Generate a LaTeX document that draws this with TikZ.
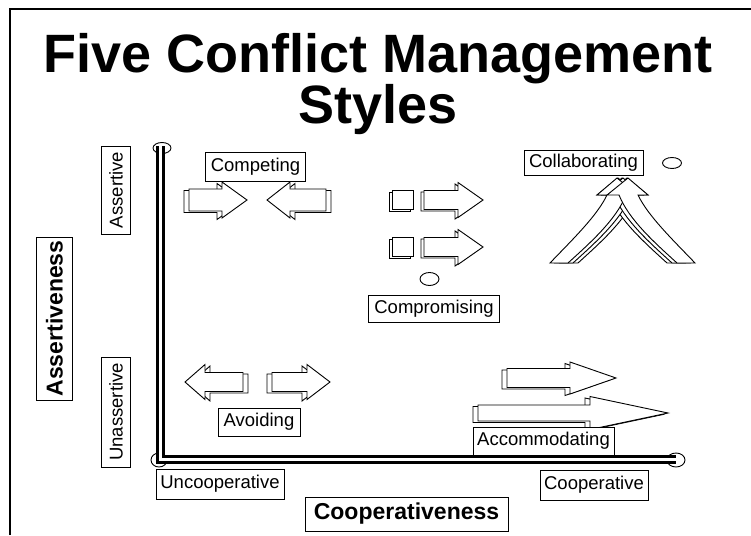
\documentclass[tikz,border=0pt]{standalone}
\usepackage{fontspec}
\setmainfont{Liberation Sans}
\newcommand\blkarrow[7]{%
  \draw[arrowface,xshift=#7pt,yshift=-1.5pt] (#1,#4-#5) -- (#2,#4-#5) -- (#2,#4-#6) -- (#3,#4) -- (#2,#4+#6) -- (#2,#4+#5) -- (#1,#4+#5) -- cycle;
  \draw[arrowface] (#1,#4-#5) -- (#2,#4-#5) -- (#2,#4-#6) -- (#3,#4) -- (#2,#4+#6) -- (#2,#4+#5) -- (#1,#4+#5) -- cycle;
}
\newcommand\leftarm[1]{%
  \draw[arrowface,xshift=#1pt] (550,263) .. controls (572,240) and (597,216) .. (607,195) -- (597,195) -- (617,178) -- (638,195) -- (626,195) .. controls (616,220) and (590,243) .. (568,263) -- cycle;
}
\newcommand\rightarm[1]{%
  \draw[arrowface,xshift=#1pt] (695,263) .. controls (673,240) and (648,216) .. (638,195) -- (648,195) -- (628,178) -- (607,195) -- (619,195) .. controls (629,220) and (655,243) .. (677,263) -- cycle;
}
\begin{document}
\begin{tikzpicture}[x=1pt,y=-1pt,
  arrowface/.style={draw=black,fill=white,line width=0.9pt,line join=miter},
  lbl/.style={draw=black,line width=0.9pt,fill=white,inner sep=0pt,
    font=\fontsize{18.5}{21}\selectfont},
  bigl/.style={draw=black,line width=0.9pt,fill=white,inner sep=0pt,
    font=\bfseries\fontsize{23}{25}\selectfont},
  ttl/.style={font=\bfseries\fontsize{54}{54}\selectfont,anchor=base,inner sep=0pt},
  axisout/.style={line width=9pt,black},
  axisin/.style={line width=3pt,white},
  endcap/.style={draw=black,fill=white,line width=0.9pt}]
\useasboundingbox (0,0) rectangle (751,535);
% frame
\draw[line width=1.5pt] (10,535) -- (10,9) -- (751,9);
% title
\node[ttl] (title1) at (378,72) {Five Conflict Management};
\node[ttl] (title2) at (378,123) {Styles};
% Competing
\blkarrow{189}{222}{247}{200}{11}{18}{-5}
\blkarrow{326}{290}{267}{200}{11}{18}{5}
\node[lbl,minimum width=100pt,minimum height=29pt] (competing) at (255.5,166.5) {Competing};
% Compromising
\foreach \cy in {200,247}{
  \draw[arrowface,xshift=-3pt,yshift=-1.5pt] (392,\cy-9.5) rectangle (413,\cy+9.5);
  \draw[arrowface] (392,\cy-9.5) rectangle (413,\cy+9.5);
  \blkarrow{424}{458}{483}{\cy}{9.5}{17.5}{-3}
}
\draw[endcap] (429.5,279) ellipse [x radius=9.5pt,y radius=6.5pt];
\node[lbl,minimum width=131pt,minimum height=27pt] (compromising) at (434,308.5) {Compromising};
% Collaborating
\leftarm{10}
\rightarm{-10}
\leftarm{5}
\rightarm{-5}
\leftarm{0}
\rightarm{0}
\node[lbl,minimum width=119pt,minimum height=25pt] (collaborating) at (583.5,162.5) {Collaborating};
\draw[endcap] (672,163) ellipse [x radius=9.5pt,y radius=5.5pt];
% Avoiding
\blkarrow{243}{205}{185}{382}{9.5}{17.5}{5}
\blkarrow{272}{307}{330}{382}{9.5}{17.5}{-5}
\node[lbl,minimum width=82pt,minimum height=28pt] (avoiding) at (259,422) {Avoiding};
% Accommodating
\blkarrow{507}{570}{616}{378}{9.5}{16}{-5}
\blkarrow{478}{590}{668}{413}{8}{16.5}{-5}
\node[lbl,minimum width=141pt,minimum height=28pt] (accommodating) at (543.5,441) {Accommodating};
% axes
\draw[endcap] (162,148) ellipse [x radius=9pt,y radius=5.5pt];
\draw[endcap] (159,460) ellipse [x radius=8pt,y radius=7pt];
\draw[endcap] (676,460) ellipse [x radius=9pt,y radius=7pt];
\coordinate (ytop) at (160.5,146);
\coordinate (origin) at (160.5,459.5);
\coordinate (xend) at (676,459.5);
\draw[axisout] (ytop) -- (origin) -- (xend);
\draw[axisin] (ytop) -- (origin) -- (xend);
% axis labels
\node[lbl,rotate=90,minimum width=88pt,minimum height=29pt] (assertive) at (116,190) {Assertive};
\node[lbl,rotate=90,minimum width=110pt,minimum height=29pt] (unassertive) at (116,412) {Unassertive};
\node[bigl,rotate=90,minimum width=163pt,minimum height=36pt] (assertiveness) at (54.5,318.5) {Assertiveness};
\node[lbl,minimum width=128pt,minimum height=30pt] (uncooperative) at (220,484) {Uncooperative};
\node[lbl,minimum width=108pt,minimum height=30pt] (cooperative) at (594,485) {Cooperative};
\node[bigl,minimum width=203pt,minimum height=34pt] (cooperativeness) at (406.5,514) {Cooperativeness};
\end{tikzpicture}
\end{document}
